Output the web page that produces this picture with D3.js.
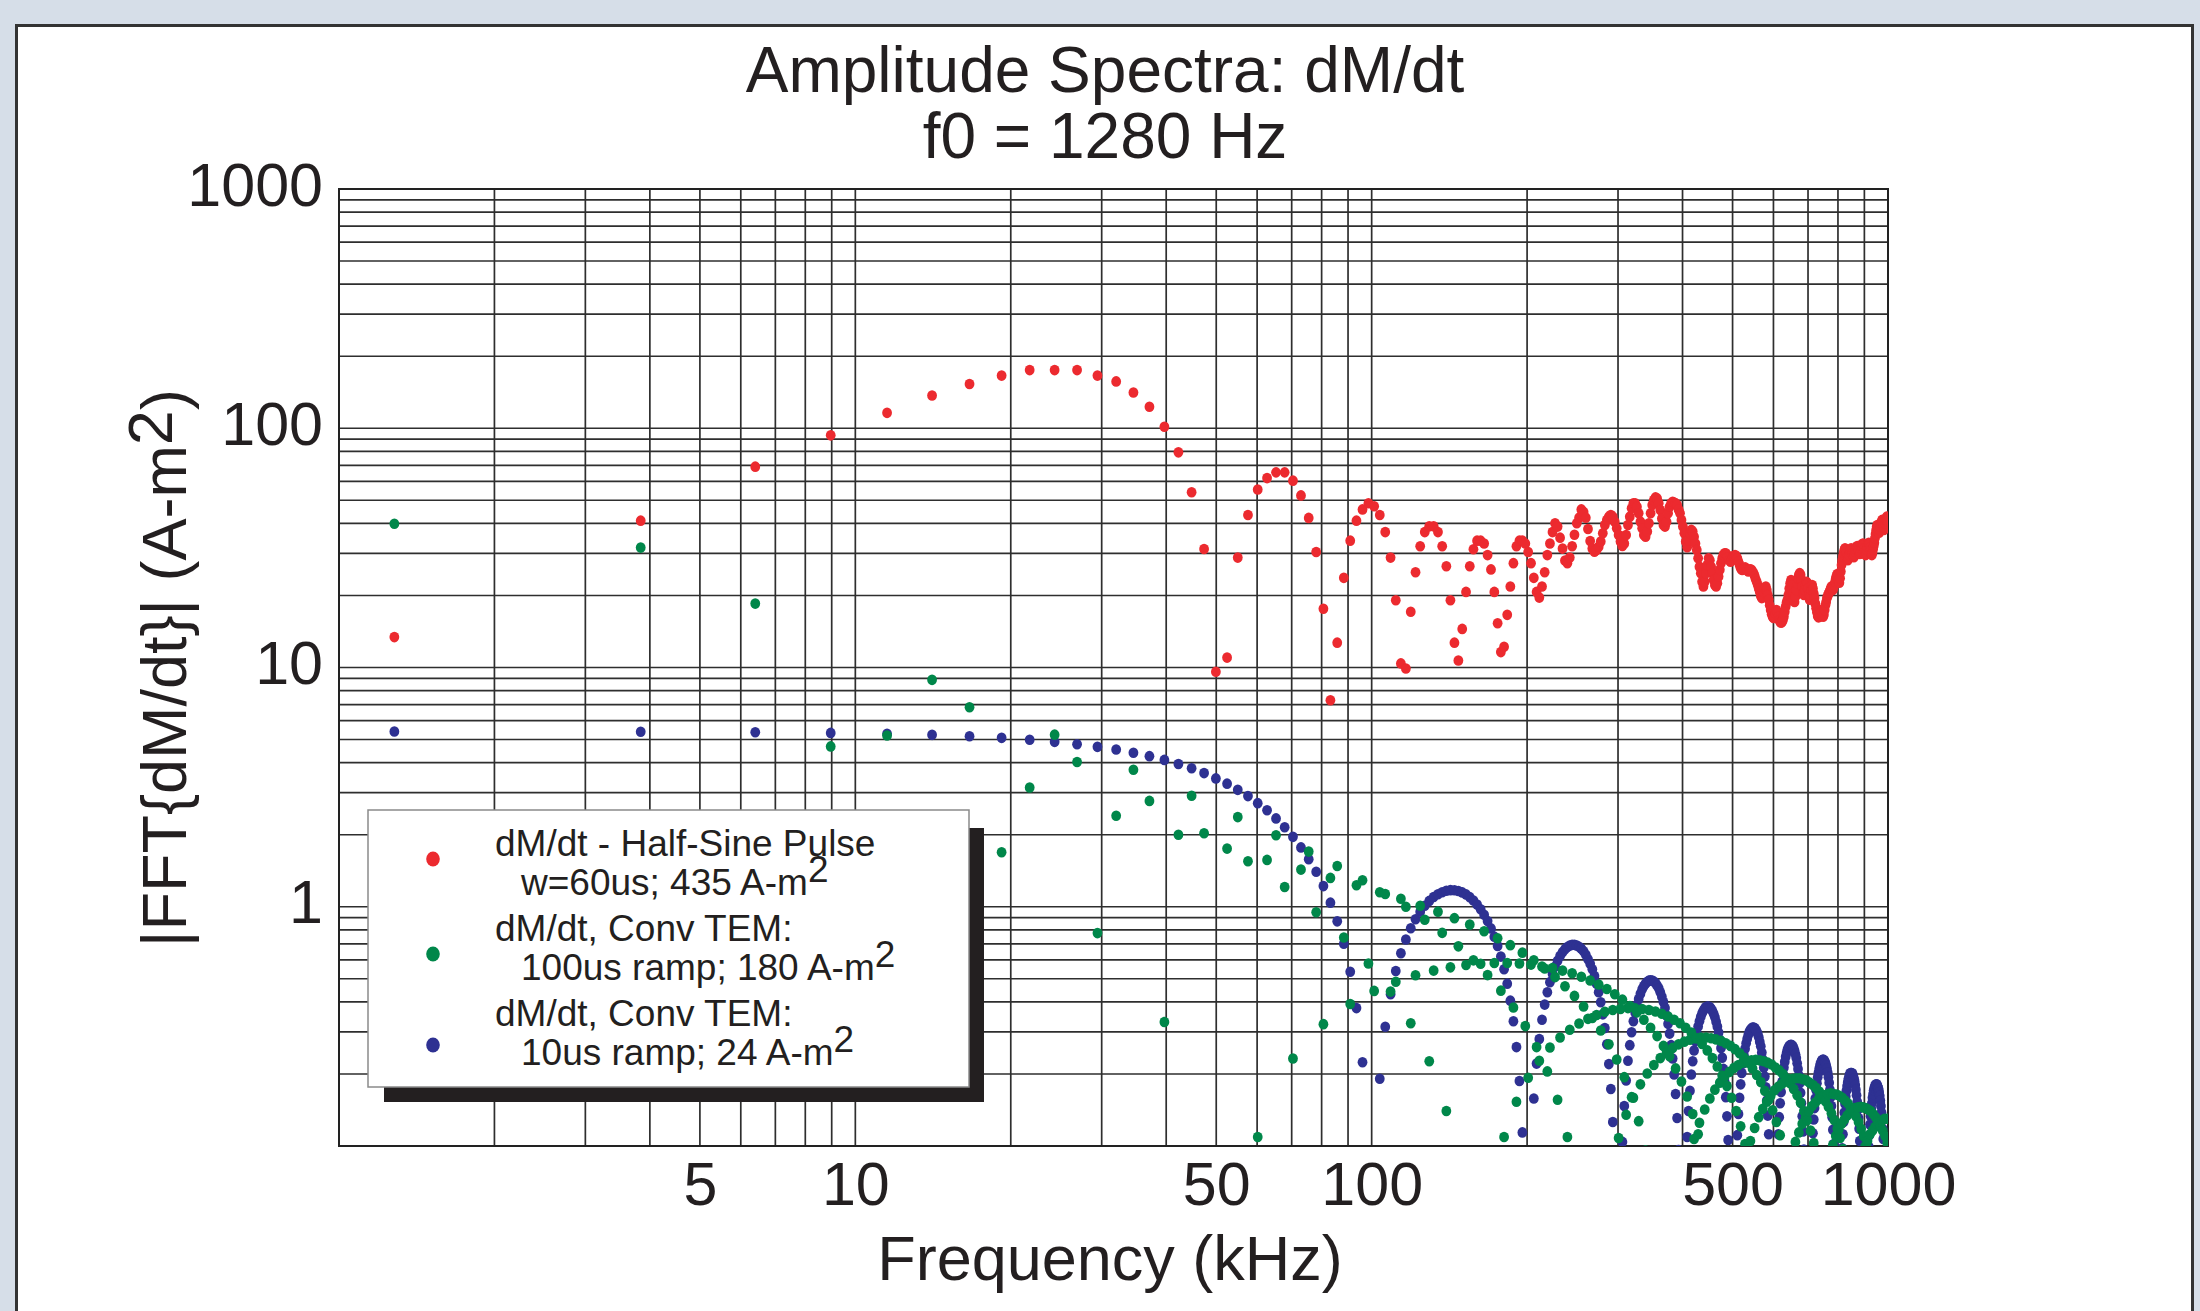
<!DOCTYPE html>
<html><head><meta charset="utf-8">
<script src="https://cdn.jsdelivr.net/npm/d3@7"></script>
<style>
html,body{margin:0;padding:0;background:#d6dee8;}
svg{display:block;}
text{font-family:"Liberation Sans",Arial,Helvetica,sans-serif;fill:#231f20;}
</style></head><body>
<svg id="chart" width="2200" height="1311"></svg>
<script>
// ---- data ----
const f0kHz = 1.28;                      // fundamental, points sit on odd harmonics
const titleLines = ["Amplitude Spectra: dM/dt", "f0 = 1280 Hz"];
const xTickValues = [5, 10, 50, 100, 500, 1000];
const yTickValues = [1, 10, 100, 1000];
const xLabel = "Frequency (kHz)";
const yLabelMain = "|FFT{dM/dt}| (A-m", yLabelSup = "2", yLabelEnd = ")";
const seriesNames = ["halfSine", "conv100", "conv10"];
const seriesColors = ["#ec2a2f", "#00874a", "#2e3192"];
const legendLines = [
  ["dM/dt - Half-Sine Pulse", "w=60us; 435 A-m"],
  ["dM/dt, Conv TEM:", "100us ramp; 180 A-m"],
  ["dM/dt, Conv TEM:", "10us ramp; 24 A-m"]
];

// red: dM/dt half-sine pulse (A-m^2), one value per odd harmonic
const redHalfSine = [
13.4,41.1,69.1,93.4,116,137,153,166,175,175,
175,166,157,141,123,101.5,79.3,54,31.3,9.6,
11.0,28.8,43.4,55.5,61.9,65.4,65.4,60.4,52.4,42.2,
30.4,17.6,7.3,12.7,23.7,33.9,41.1,45.8,48.6,47.2,
43.4,36.8,28.8,19.1,10.4,9.9,17.1,25.0,32.1,36.8,
38.9,38.9,36.8,32.1,26.5,19.1,12.7,10.7,14.5,20.7,
26.5,31.2,33.9,33.9,33.0,29.5,25.7,20.7,15.3,11.6,
12.2,16.6,21.8,27.3,32.1,33.9,33.9,33.0,30.4,27.3,
23.7,20.7,19.6,21.8,25.0,29.5,33.0,36.8,40.1,38.8,
34.9,31.4,28.0,27.3,28.8,32.1,35.9,40.1,42.3,45.8,
44.7,42.3,37.9,33.8,31.4,30.5,31.0,32.0,33.6,36.4,
39.4,41.4,42.7,43.4,42.7,40.7,38.2,35.8,33.6,32.2,
33.0,35.8,39.4,42.7,46.3,48.6,48.6,47.0,44.1,40.7,
38.2,35.8,35.2,37.0,40.1,44.1,47.8,50.1,51.4,50.9,
48.6,45.5,42.0,39.4,38.8,40.7,44.1,47.0,48.6,49.3,
48.9,48.6,47.8,45.8,44.1,41.4,38.8,36.4,33.6,31.8,
34.1,36.4,37.6,37.0,35.2,33.0,31.0,28.6,26.4,24.8,
22.8,21.8,22.8,24.8,26.8,28.6,28.1,26.4,24.8,23.2,
22.1,21.8,22.5,24.0,25.6,27.3,28.6,29.5,30.0,30.0,
29.5,28.9,28.1,27.7,28.1,28.9,29.2,29.5,29.2,28.6,
27.7,26.8,26.0,25.6,25.6,26.0,26.2,26.0,25.6,25.2,
25.6,25.7,25.6,25.2,24.8,24.1,23.4,22.8,22.1,21.4,
20.7,19.9,19.5,19.8,20.7,21.4,21.8,21.1,20.1,19.2,
18.2,17.4,16.7,16.3,16.1,16.3,16.8,17.4,17.1,16.3,
15.8,15.5,15.4,15.5,15.8,16.3,17.1,18.0,18.7,19.2,
20.1,21.4,22.5,23.2,22.1,20.4,19.2,18.8,19.8,21.1,
22.5,23.6,24.4,24.8,24.4,23.2,21.8,20.4,20.1,21.1,
22.1,22.8,22.5,21.4,20.1,19.2,19.8,21.1,22.1,21.4,
20.4,19.5,18.5,17.7,17.0,16.4,16.2,16.3,16.8,17.4,
17.1,16.6,16.3,16.6,17.4,18.2,18.8,19.5,19.9,20.3,
20.6,21.0,21.4,21.8,21.4,21.1,21.6,22.1,22.8,23.6,
24.1,24.6,24.1,23.2,22.6,23.6,25.2,26.8,28.1,29.2,
30.2,31.0,31.5,31.0,30.0,28.9,28.1,28.6,29.5,30.5,
31.0,31.5,30.8,30.0,29.2,28.9,29.5,30.5,31.2,31.8,
32.2,31.8,31.0,30.2,29.8,30.5,31.5,32.2,32.8,33.0,
32.5,31.5,30.5,29.5,30.0,31.0,32.0,32.8,33.2,32.8,
31.8,30.8,29.8,29.5,30.2,31.2,32.2,33.2,34.7,36.1,
37.6,38.8,39.4,38.8,37.6,36.6,37.6,38.8,40.1,40.7,
41.4,40.3,38.8,37.6,38.5,40.1,41.4,42.0,42.7,41.6,40.7
];

// green: conventional TEM, 100us ramp (null = below 0.1, off the plot)
const greenConv100 = [
39.9,31.7,18.5,4.68, 5.20,8.88,6.82,1.69, 3.15,5.24,4.03,0.776, 2.40,3.74,2.77,0.330,
2.00,2.91,2.03,null, 1.75,2.37,1.55,0.109, 1.57,1.99,1.21,0.232, 1.43,1.70,0.948,0.323,
1.32,1.48,0.744,0.392, 1.23,1.29,0.579,0.445, 1.15,1.13,0.442,0.486, 1.08,1.00,0.326,0.517,
1.01,0.883,0.226,0.541, 0.954,0.778,0.140,0.558, 0.896,0.683,null,0.571, 0.842,0.597,null,0.578,
0.790,0.518,null,0.582, 0.739,0.446,0.109,0.582, 0.691,0.379,0.153,0.579, 0.643,0.317,0.193,0.573,
0.597,0.259,0.227,0.563, 0.552,0.205,0.258,0.554, 0.508,0.156,0.284,0.541, 0.465,0.109,0.306,0.527,
0.424,null,0.325,0.510, 0.383,null,0.340,0.492, 0.343,null,0.353,0.473, 0.304,null,0.364,0.453,
0.266,null,0.370,0.431, 0.230,0.108,0.374,0.409, 0.194,0.135,0.377,0.385, 0.160,0.159,0.376,0.362,
0.127,0.181,0.374,0.337, 0.0957,0.201,0.370,0.312, null,0.218,0.365,0.288, null,0.233,0.357,0.262,
null,0.246,0.348,0.237, null,0.257,0.337,0.211, null,0.266,0.326,0.186, null,0.273,0.312,0.161,
null,0.278,0.298,0.136, 0.107,0.282,0.282,0.112, 0.125,0.284,0.267,null, 0.142,0.284,0.251,null,
0.158,0.282,0.233,null, 0.172,0.279,0.215,null, 0.184,0.275,0.197,null, 0.195,0.269,0.178,null,
0.204,0.262,0.159,null, 0.212,0.254,0.140,null, 0.218,0.244,0.121,null, 0.223,0.234,0.102,null,
0.226,0.223,null,0.105, 0.228,0.211,null,0.119, 0.229,0.198,null,0.132, 0.228,0.185,null,0.143,
0.226,0.170,null,0.153, 0.223,0.156,null,0.162, 0.219,0.141,null,0.171, 0.213,0.126,null,0.177,
0.207,0.111,null,0.182, 0.200,null,null,0.186, 0.192,null,null,0.189, 0.183,null,null,0.191,
0.173,null,0.104,0.192, 0.163,null,0.114,0.192, 0.152,null,0.124,0.190, 0.140,null,0.132,0.188,
0.128,null,0.140,0.184, 0.116,null,0.147,0.180, 0.103,null,0.152,0.175, null,null,0.157,0.169,
null,null,0.161,0.161, null,null,0.163,0.154, null,null,0.165,0.146, null,null,0.166,0.137,
null,0.101,0.165,0.128, null,0.110,0.164,0.118, null,0.117,0.162,0.108, null,0.124,0.159,0.0970,
null,0.129,0.155,null, null,0.134,0.151,null, null,0.138,0.145,null, null,0.141,0.140,null,
null,0.144,0.133,null, null,0.145,0.126,null, null,0.146,0.118,null, null,0.145,0.110,null,
0.0990,0.144,0.101,null, 0.105,0.142,null,null, 0.112,0.140,null,null, 0.116,0.136,null,null,
0.120,0.132,null,null, 0.124,0.127,null,null, 0.126,0.122,null,null, 0.128,0.116,null,null,
0.130,0.110,null,null, 0.130,0.103,null
];

// blue: conventional TEM, 10us ramp (null = below 0.1, off the plot)
const blueConv10 = [
5.40,5.39,5.36,5.33,5.28,5.23,5.16,5.08,4.99,4.89,
4.78,4.66,4.54,4.40,4.26,4.11,3.95,3.79,3.62,3.44,
3.27,3.08,2.90,2.71,2.53,2.34,2.15,1.96,1.77,1.58,
1.40,1.22,1.04,0.869,0.701,0.535,0.377,0.224,null,null,
0.191,0.315,0.431,0.539,0.639,0.730,0.813,0.887,0.953,1.009,
1.058,1.099,1.128,1.150,1.166,1.173,1.172,1.163,1.148,1.126,
1.097,1.062,1.022,0.976,0.926,0.871,0.812,0.750,0.686,0.619,
0.548,0.477,0.405,0.332,0.259,0.187,0.114,null,null,null,
0.158,0.221,0.280,0.337,0.390,0.439,0.484,0.525,0.562,0.594,
0.623,0.646,0.665,0.679,0.688,0.693,0.693,0.689,0.680,0.668,
0.651,0.630,0.604,0.578,0.548,0.514,0.477,0.439,0.399,0.355,
0.311,0.266,0.220,0.173,0.126,null,null,null,null,0.104,
0.147,0.188,0.227,0.264,0.299,0.332,0.361,0.388,0.412,0.433,
0.452,0.466,0.478,0.486,0.491,0.493,0.492,0.487,0.480,0.469,
0.456,0.439,0.421,0.400,0.377,0.351,0.324,0.295,0.264,0.232,
0.199,0.165,0.131,0.0961,null,null,null,null,null,0.109,
0.140,0.170,0.199,0.226,0.251,0.275,0.296,0.316,0.332,0.347,
0.359,0.368,0.376,0.381,0.383,0.383,0.380,0.375,0.367,0.357,
0.345,0.331,0.316,0.298,0.278,0.257,0.234,0.210,0.186,0.160,
0.133,0.106,null,null,null,null,null,null,null,0.111,
0.136,0.159,0.181,0.202,0.221,0.239,0.255,0.269,0.281,0.291,
0.300,0.306,0.310,0.313,0.313,0.311,0.307,0.302,0.294,0.285,
0.273,0.261,0.246,0.230,0.213,0.195,0.176,0.155,0.134,0.112,
null,null,null,null,null,null,null,null,null,0.112,
0.132,0.151,0.168,0.185,0.200,0.213,0.225,0.236,0.245,0.253,
0.258,0.262,0.264,0.265,0.264,0.261,0.256,0.250,0.242,0.233,
0.222,0.210,0.197,0.183,0.167,0.151,0.133,0.115,0.0967,null,
null,null,null,null,null,null,null,null,null,0.113,
0.129,0.144,0.158,0.171,0.183,0.194,0.203,0.211,0.218,0.223,
0.227,0.229,0.229,0.229,0.226,0.223,0.217,0.211,0.203,0.194,
0.184,0.172,0.160,0.147,0.132,0.117,0.102,null,null,null,
null,null,null,null,null,null,null,null,0.0979,0.112,
0.126,0.138,0.150,0.161,0.170,0.178,0.185,0.191,0.196,0.200,
0.202,0.202,0.202,0.200,0.197,0.192,0.187,0.180,0.172,0.163,
0.153,0.142,0.131,0.118,0.105,null,null,null,null,null,
null,null,null,null,null,null,null,null,0.0992,0.111,
0.123,0.133,0.143,0.151,0.159,0.165,0.171,0.175,0.178,0.180,
0.181,0.181,0.179,0.176,0.173,0.168,0.162,0.155,0.147,0.138,
0.128,0.118,0.107,null,null,null,null,null,null,null,null
];

// ---- drawing ----
const svg = d3.select("#chart");
const W = 2200, H = 1311;
const plot = {left: 339, right: 1888, top: 189, bottom: 1146};
const x = d3.scaleLog().domain([1, 1000]).range([plot.left, plot.right]);
const y = d3.scaleLog().domain([0.1, 1000]).range([plot.bottom, plot.top]);
const harmonicFreq = k => f0kHz * (2 * k + 1);

// panel
svg.append("rect").attr("x", 0).attr("y", 0).attr("width", W).attr("height", H).attr("fill", "#d6dee8");
svg.append("rect").attr("x", 16.5).attr("y", 25.5).attr("width", 2176).attr("height", 1320)
  .attr("fill", "#ffffff").attr("stroke", "#333333").attr("stroke-width", 3);

// titles
svg.append("g").selectAll("text").data(titleLines).join("text")
  .attr("x", 1105).attr("y", (d, i) => i === 0 ? 92 : 158)
  .attr("text-anchor", "middle").attr("font-size", 64).text(d => d);

// grid
const grid = svg.append("g").attr("stroke", "#2e2e2e").attr("stroke-width", 1.7);
grid.selectAll("line.v").data(x.ticks()).join("line").attr("class", "v")
  .attr("x1", d => x(d)).attr("x2", d => x(d)).attr("y1", plot.top).attr("y2", plot.bottom);
grid.selectAll("line.h").data(y.ticks()).join("line").attr("class", "h")
  .attr("y1", d => y(d)).attr("y2", d => y(d)).attr("x1", plot.left).attr("x2", plot.right);
svg.append("rect").attr("x", plot.left).attr("y", plot.top)
  .attr("width", plot.right - plot.left).attr("height", plot.bottom - plot.top)
  .attr("fill", "none").attr("stroke", "#222").attr("stroke-width", 2);

// axes (labels only)
const yAxis = svg.append("g").attr("transform", `translate(${plot.left - 16},0)`)
  .call(d3.axisLeft(y).tickValues(yTickValues).tickFormat(d3.format("d")).tickSize(0).tickPadding(0));
yAxis.select(".domain").remove();
yAxis.selectAll("text").attr("font-size", 61).attr("font-family", "Liberation Sans, Arial, sans-serif")
  .attr("fill", "#231f20").attr("dy", 16);

const xAxis = svg.append("g").attr("transform", `translate(0,${plot.bottom})`)
  .call(d3.axisBottom(x).tickValues(xTickValues).tickFormat(d3.format("d")).tickSize(0).tickPadding(0));
xAxis.select(".domain").remove();
xAxis.selectAll("text").attr("font-size", 61).attr("font-family", "Liberation Sans, Arial, sans-serif")
  .attr("fill", "#231f20").attr("dy", 0).attr("y", 59);

// axis titles
svg.append("text").attr("x", 1110).attr("y", 1280).attr("text-anchor", "middle")
  .attr("font-size", 63).text(xLabel);
const yt = svg.append("text").attr("transform", "translate(186,668) rotate(-90)")
  .attr("text-anchor", "middle").attr("font-size", 63);
yt.append("tspan").text(yLabelMain);
yt.append("tspan").attr("dy", -14).text(yLabelSup);
yt.append("tspan").attr("dy", 14).text(yLabelEnd);

// data points
svg.append("clipPath").attr("id", "plotclip").append("rect")
  .attr("x", plot.left).attr("y", plot.top)
  .attr("width", plot.right - plot.left).attr("height", plot.bottom - plot.top);
const dots = svg.append("g").attr("clip-path", "url(#plotclip)");
const seriesData = [blueConv10, greenConv100, redHalfSine];
const drawColors = [seriesColors[2], seriesColors[1], seriesColors[0]];
seriesData.forEach((vals, si) => {
  const pts = vals.map((v, k) => ({f: harmonicFreq(k), v})).filter(d => d.v != null);
  dots.append("g").selectAll("ellipse").data(pts).join("ellipse")
    .attr("cx", d => x(d.f)).attr("cy", d => y(d.v)).attr("rx", 4.9).attr("ry", 5.3)
    .attr("fill", drawColors[si]);
});

// legend
const lg = svg.append("g");
lg.append("rect").attr("x", 384).attr("y", 828).attr("width", 600).attr("height", 274).attr("fill", "#231f20");
lg.append("rect").attr("x", 368).attr("y", 810).attr("width", 601).attr("height", 277)
  .attr("fill", "#ffffff").attr("stroke", "#8a8a8a").attr("stroke-width", 1.5);
const lgBase = [856, 941, 1026];
const lgDot = [859, 954, 1045];
legendLines.forEach((lines, i) => {
  lg.append("ellipse").attr("cx", 433).attr("cy", lgDot[i]).attr("rx", 6.8).attr("ry", 7.4).attr("fill", seriesColors[i]);
  lg.append("text").attr("x", 495).attr("y", lgBase[i]).attr("font-size", 37).text(lines[0]);
  const t = lg.append("text").attr("x", 521).attr("y", lgBase[i] + 39).attr("font-size", 37);
  t.append("tspan").text(lines[1]);
  t.append("tspan").attr("dy", -13).text("2");
});
</script>
</body></html>
